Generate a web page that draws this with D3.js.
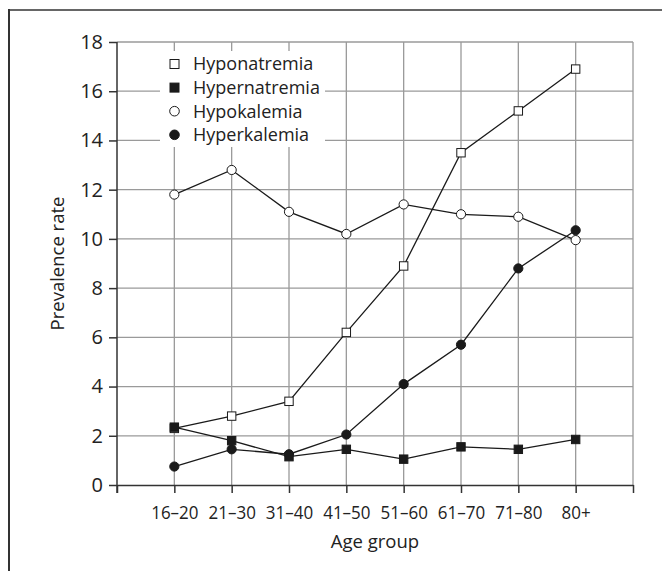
<!DOCTYPE html>
<html>
<head>
<meta charset="utf-8">
<script src="https://cdn.jsdelivr.net/npm/d3@7"></script>
<style>
  body { margin: 0; background: #fff; }
  text { font-family: "Open Sans", sans-serif; fill: #222; }
</style>
</head>
<body>
<svg id="chart" width="662" height="571"></svg>
<script>
// age groups along x
var ageGroups = ['16–20', '21–30', '31–40', '41–50', '51–60', '61–70', '71–80', '80+'];
var yTicks = [0, 2, 4, 6, 8, 10, 12, 14, 16, 18];

// prevalence rate per age group
var hyponatremia  = [2.3, 2.8, 3.4, 6.2, 8.9, 13.5, 15.2, 16.9];
var hypernatremia = [2.35, 1.8, 1.15, 1.45, 1.05, 1.55, 1.45, 1.85];
var hypokalemia   = [11.8, 12.8, 11.1, 10.2, 11.4, 11.0, 10.9, 9.95];
var hyperkalemia  = [0.75, 1.45, 1.25, 2.05, 4.1, 5.7, 8.8, 10.35];

var seriesNames = ['Hyponatremia', 'Hypernatremia', 'Hypokalemia', 'Hyperkalemia'];

var series = [
    { name: seriesNames[0], values: hyponatremia,  shape: 'square', fill: '#fff' },
    { name: seriesNames[2], values: hypokalemia,   shape: 'circle', fill: '#fff' },
    { name: seriesNames[3], values: hyperkalemia,  shape: 'circle', fill: '#1a1a1a' },
    { name: seriesNames[1], values: hypernatremia, shape: 'square', fill: '#1a1a1a' }
];

var svg = d3.select('#chart');

// frame (top and left edges only)
svg.append('line').attr('x1', 9).attr('x2', 662).attr('y1', 10).attr('y2', 10)
    .attr('stroke', '#666').attr('stroke-width', 2);
svg.append('line').attr('x1', 9).attr('x2', 9).attr('y1', 9).attr('y2', 571)
    .attr('stroke', '#333').attr('stroke-width', 2);

var margin = { left: 117, right: 633, top: 42, bottom: 485 };

var x = d3.scaleLinear().domain([0, ageGroups.length + 1]).range([margin.left, margin.right]);
var y = d3.scaleLinear().domain([0, 18]).range([margin.bottom, margin.top]);

var grid = svg.append('g').attr('stroke', '#9a9a9a').attr('stroke-width', 1.3);

// horizontal grid lines
grid.selectAll('line.h')
    .data(yTicks.slice(1))
    .enter().append('line')
    .attr('class', 'h')
    .attr('x1', margin.left).attr('x2', margin.right)
    .attr('y1', function (d) { return y(d); })
    .attr('y2', function (d) { return y(d); });

// vertical grid lines
grid.selectAll('line.v')
    .data(d3.range(1, ageGroups.length + 2))
    .enter().append('line')
    .attr('class', 'v')
    .attr('x1', function (d) { return x(d); })
    .attr('x2', function (d) { return x(d); })
    .attr('y1', margin.top).attr('y2', margin.bottom);

// legend background hides grid behind it
svg.append('rect')
    .attr('x', 160).attr('y', 51)
    .attr('width', 165).attr('height', 96)
    .attr('fill', '#fff');

// axes
var xAxis = d3.axisBottom(x)
    .tickValues(d3.range(0, ageGroups.length + 2))
    .tickSize(8)
    .tickSizeOuter(0)
    .tickFormat(function (d) { return ageGroups[d - 1] || ''; });

var yAxis = d3.axisLeft(y)
    .tickValues(yTicks)
    .tickSize(8)
    .tickSizeOuter(0);

var gx = svg.append('g')
    .attr('transform', 'translate(0,' + margin.bottom + ')')
    .call(xAxis);
gx.select('.domain').attr('stroke', '#333').attr('stroke-width', 1.5);
gx.selectAll('.tick line').attr('stroke', '#333').attr('stroke-width', 1.5);
gx.selectAll('.tick text')
    .attr('y', 18)
    .attr('dy', '0.71em')
    .attr('transform', 'scale(1,1.12)')
    .style('font-size', '17px')
    .style('font-family', '"Open Sans", sans-serif')
    .attr('fill', '#222');

var gy = svg.append('g')
    .attr('transform', 'translate(' + margin.left + ',0)')
    .call(yAxis);
gy.select('.domain').attr('stroke', '#333').attr('stroke-width', 1.5)
    .attr('d', 'M0,' + margin.top + 'V' + (margin.bottom + 8));
gy.selectAll('.tick line').attr('stroke', '#333').attr('stroke-width', 1.5);
gy.selectAll('.tick text')
    .attr('x', -14)
    .style('font-size', '20px')
    .style('font-family', '"Open Sans", sans-serif')
    .attr('fill', '#222');

// axis titles
svg.append('text')
    .attr('x', (margin.left + margin.right) / 2)
    .attr('y', 548)
    .attr('text-anchor', 'middle')
    .style('font-size', '18.5px')
    .text('Age group');

svg.append('text')
    .attr('transform', 'translate(64,' + ((margin.top + margin.bottom) / 2) + ') rotate(-90)')
    .attr('text-anchor', 'middle')
    .style('font-size', '18.5px')
    .text('Prevalence rate');

// lines
var line = d3.line()
    .x(function (d, i) { return x(i + 1); })
    .y(function (d) { return y(d); });

svg.selectAll('path.series')
    .data(series)
    .enter().append('path')
    .attr('class', 'series')
    .attr('d', function (s) { return line(s.values); })
    .attr('fill', 'none')
    .attr('stroke', '#1a1a1a')
    .attr('stroke-width', 1.3);

// markers
function drawMarker(g, shape, fill, cx, cy) {
    if (shape === 'square') {
        g.append('rect')
            .attr('x', cx - 4.2).attr('y', cy - 4.2)
            .attr('width', 8.4).attr('height', 8.4)
            .attr('fill', fill).attr('stroke', '#1a1a1a').attr('stroke-width', 1);
    } else {
        g.append('circle')
            .attr('cx', cx).attr('cy', cy).attr('r', 4.6)
            .attr('fill', fill).attr('stroke', '#1a1a1a').attr('stroke-width', 1);
    }
}

series.forEach(function (s) {
    var g = svg.append('g');
    s.values.forEach(function (v, i) {
        drawMarker(g, s.shape, s.fill, x(i + 1), y(v));
    });
});

// legend
var legendOrder = [series[0], series[3], series[1], series[2]];
var legend = svg.append('g');
legendOrder.forEach(function (s, i) {
    var ly = 64 + i * 23.6;
    var g = legend.append('g');
    if (s.shape === 'square') {
        g.append('rect')
            .attr('x', 170).attr('y', ly - 4.5)
            .attr('width', 9).attr('height', 9)
            .attr('fill', s.fill).attr('stroke', '#1a1a1a').attr('stroke-width', 1);
    } else {
        g.append('circle')
            .attr('cx', 174.5).attr('cy', ly).attr('r', 4.8)
            .attr('fill', s.fill).attr('stroke', '#1a1a1a').attr('stroke-width', 1);
    }
    g.append('text')
        .attr('x', 193).attr('y', ly)
        .attr('dy', '0.35em')
        .style('font-size', '18px')
        .text(s.name);
});
</script>
</body>
</html>
